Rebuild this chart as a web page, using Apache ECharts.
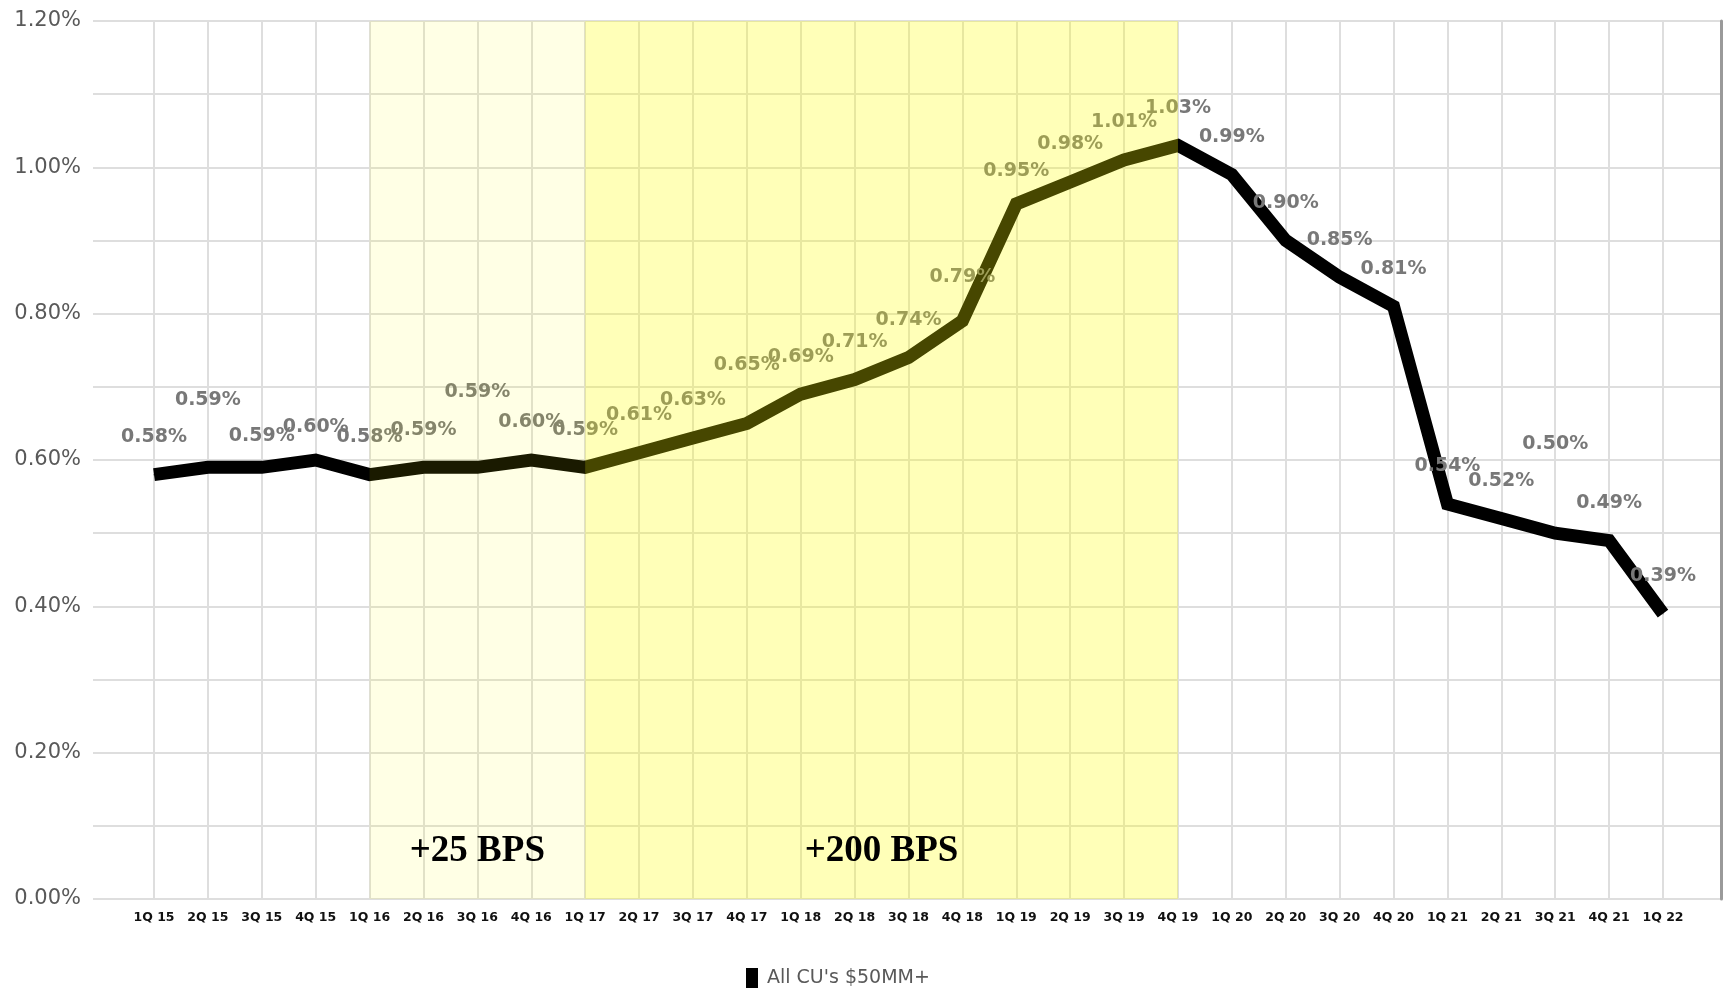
<!DOCTYPE html>
<html>
<head>
<meta charset="utf-8">
<title>All CU's $50MM+</title>
<script src="https://cdn.jsdelivr.net/npm/echarts@6/dist/echarts.min.js"></script>
<style>
  html, body { margin: 0; padding: 0; background: #ffffff; }
  #chart { width: 1727px; height: 989px; }
</style>
</head>
<body>
<div id="chart"></div>
<script>
// Quarterly rate (in %) for all credit unions with $50MM+ in assets
const categories = [
  '1Q 15', '2Q 15', '3Q 15', '4Q 15',
  '1Q 16', '2Q 16', '3Q 16', '4Q 16',
  '1Q 17', '2Q 17', '3Q 17', '4Q 17',
  '1Q 18', '2Q 18', '3Q 18', '4Q 18',
  '1Q 19', '2Q 19', '3Q 19', '4Q 19',
  '1Q 20', '2Q 20', '3Q 20', '4Q 20',
  '1Q 21', '2Q 21', '3Q 21', '4Q 21',
  '1Q 22'
];
const rates = [
  0.58, 0.59, 0.59, 0.60,
  0.58, 0.59, 0.59, 0.60,
  0.59, 0.61, 0.63, 0.65,
  0.69, 0.71, 0.74, 0.79,
  0.95, 0.98, 1.01, 1.03,
  0.99, 0.90, 0.85, 0.81,
  0.54, 0.52, 0.50, 0.49,
  0.39
];
const seriesName = "All CU's $50MM+";

// Fed rate-hike periods shaded on the chart
const hikeFrom = ['1Q 16', '1Q 17'];
const hikeTo = ['1Q 17', '4Q 19'];
const hikeLabels = ['+25 BPS', '+200 BPS'];
const hikeShades = ['rgba(255,255,0,0.10)', 'rgba(255,255,0,0.28)'];

// Y axis range (percent)
const yMin = 0, yMax = 1.2, yStep = 0.2;

// Extra lift (px) for value labels that sit higher to avoid overlaps
const labelLift = { '2Q 15': 30, '3Q 15': -6, '4Q 15': -5, '3Q 16': 38, '4Q 17': 21, '4Q 18': 6, '1Q 19': -5, '3Q 21': 52 };

const baseDistance = 27;
const pct = v => v.toFixed(2) + '%';

const lineData = rates.map((v, i) => ({
  value: v,
  label: { distance: baseDistance + (labelLift[categories[i]] || 0) }
}));

const areaData = hikeFrom.map((f, i) => [
  { name: hikeLabels[i], xAxis: f, itemStyle: { color: hikeShades[i] } },
  { xAxis: hikeTo[i] }
]);

const gridTop = 21, gridBottom = 90;
const gridLine = { color: '#dedede', width: 2 };

const chart = echarts.init(document.getElementById('chart'), null, { renderer: 'canvas' });
chart.setOption({
  animation: false,
  backgroundColor: '#ffffff',
  grid: [
    { left: 93, right: 6, top: gridTop, bottom: gridBottom, containLabel: false },
    { left: 154, right: 64, top: gridTop, bottom: gridBottom, containLabel: false }
  ],
  legend: {
    data: [seriesName],
    left: 741,
    top: 963,
    icon: 'rect',
    itemWidth: 12,
    itemHeight: 20,
    selectedMode: false,
    textStyle: { fontFamily: 'DejaVu Sans', fontSize: 19, color: '#595959', padding: [0, 0, 0, 4] }
  },
  xAxis: [
    { gridIndex: 0, type: 'value', show: false, min: 0, max: 1 },
    {
      gridIndex: 1,
      type: 'category',
      data: categories,
      boundaryGap: false,
      axisLine: { show: false },
      axisTick: { show: false },
      axisLabel: {
        interval: 0, margin: 12,
        fontFamily: 'DejaVu Sans', fontSize: 12.5, fontWeight: 'bold', color: '#111111'
      },
      splitLine: { show: true, interval: 0, lineStyle: gridLine }
    }
  ],
  yAxis: [
    {
      gridIndex: 0,
      type: 'value',
      min: yMin, max: yMax, interval: yStep,
      axisLine: { show: false },
      axisTick: { show: false },
      axisLabel: {
        margin: 12, formatter: pct,
        fontFamily: 'DejaVu Sans', fontSize: 21, color: '#595959'
      },
      splitLine: { show: true, lineStyle: gridLine },
      minorTick: { show: false, splitNumber: 2 },
      minorSplitLine: { show: true, lineStyle: gridLine }
    },
    {
      gridIndex: 0,
      type: 'value',
      position: 'right',
      min: yMin, max: yMax,
      axisLine: { show: true, lineStyle: { color: '#9a9a9a', width: 3 } },
      axisTick: { show: false },
      axisLabel: { show: false },
      splitLine: { show: false }
    },
    { gridIndex: 1, type: 'value', min: yMin, max: yMax, show: false, splitLine: { show: false } }
  ],
  series: [
    {
      name: seriesName,
      type: 'line',
      xAxisIndex: 1,
      yAxisIndex: 2,
      z: 2,
      data: lineData,
      symbol: 'circle',
      symbolSize: 1,
      itemStyle: { color: '#000000' },
      lineStyle: { color: '#000000', width: 13, cap: 'butt', join: 'miter' },
      silent: true,
      label: {
        show: true,
        position: 'top',
        formatter: p => pct(p.value),
        fontFamily: 'DejaVu Sans',
        fontSize: 19,
        fontWeight: 'bold',
        lineHeight: 20,
        color: '#787878'
      },
      labelLayout: { hideOverlap: false }
    },
    {
      name: 'hikes',
      type: 'line',
      xAxisIndex: 1,
      yAxisIndex: 2,
      z: 10,
      data: [],
      silent: true,
      markArea: {
        silent: true,
        z: 10,
        label: {
          show: true,
          position: 'insideBottom',
          distance: 28,
          formatter: '{b}',
          fontFamily: 'Liberation Serif',
          fontSize: 37,
          fontWeight: 'bold',
          lineHeight: 40,
          color: '#000000'
        },
        data: areaData
      }
    }
  ]
});
</script>
</body>
</html>
